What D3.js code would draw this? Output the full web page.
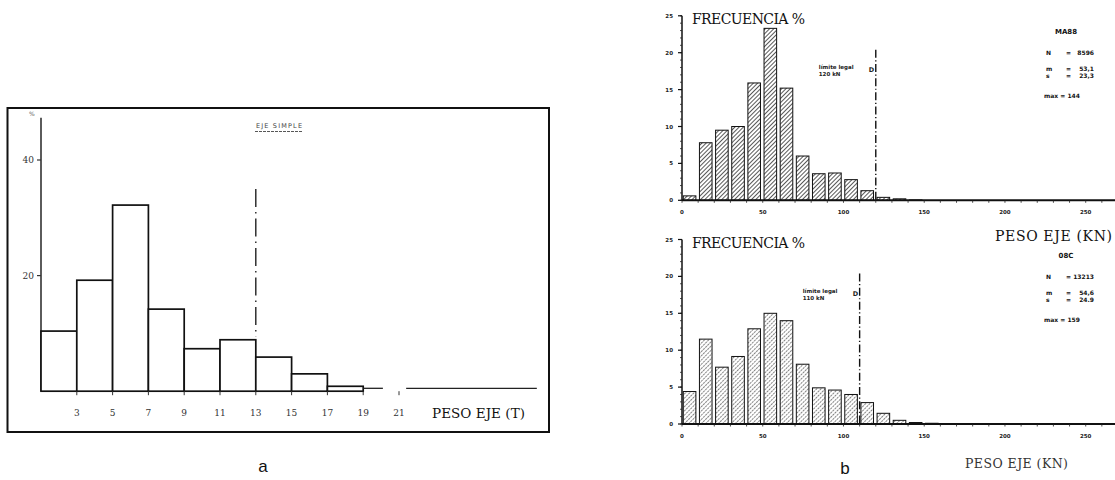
<!DOCTYPE html>
<html><head><meta charset="utf-8">
<script src="https://cdn.jsdelivr.net/npm/d3@7"></script>
<style>body{margin:0;background:#fff}svg{display:block}</style>
</head><body><svg id="c" width="1115" height="480"></svg>
<script>
// ---------- Panel a : EJE SIMPLE ----------
const aBinStarts = [1, 3, 5, 7, 9, 11, 13, 15, 17];
const aValues    = [10.4, 19.2, 32.2, 14.2, 7.35, 8.9, 5.9, 3.0, 0.85];
const aTail      = [[19, 20.1, 0.5], [21.4, 28.7, 0.5]];
const aXTicks    = [3, 5, 7, 9, 11, 13, 15, 17, 19, 21];
const aYTicks    = [20, 40];
const aLimit     = 13;
const aTitle     = "EJE SIMPLE";
const aXTitle    = "PESO EJE (T)";

// ---------- Panel b : two histograms ----------
const bBinStarts = [0, 10, 20, 30, 40, 50, 60, 70, 80, 90, 100, 110, 120, 130, 140, 150];
const maValues   = [0.6, 7.8, 9.5, 10.0, 15.9, 23.3, 15.2, 6.0, 3.6, 3.7, 2.8, 1.3, 0.4, 0.2, 0.05];
const ocValues   = [4.4, 11.5, 7.7, 9.15, 12.9, 15.0, 14.0, 8.1, 4.9, 4.6, 4.0, 2.9, 1.45, 0.5, 0.2, 0.1];
const bXTicks    = [0, 50, 100, 150, 200, 250];
const bYTicks    = [0, 5, 10, 15, 20, 25];
const maLimit    = 120, ocLimit = 110;
const maName = "MA88", ocName = "08C";
const maStats = [["N", "8596"], ["m", "53,1"], ["s", "23,3"]], maMax = "144";
const ocStats = [["N", "13213"], ["m", "54,6"], ["s", "24.9"]], ocMax = "159";

const svg = d3.select("#c");
const defs = svg.append("defs");
function hatch(id, color, dash, w) {
  const p = defs.append("pattern").attr("id", id).attr("patternUnits", "userSpaceOnUse")
    .attr("width", 3).attr("height", 3).attr("patternTransform", "rotate(45)");
  p.append("line").attr("x1", 0).attr("y1", 0).attr("x2", 0).attr("y2", 3)
    .attr("stroke", color).attr("stroke-width", w).attr("stroke-dasharray", dash);
}
hatch("hTop", "#111", null, 1.4);
hatch("hBot", "#333", "2,0.8", 1.2);

// ===== Panel a =====
const xA = d3.scaleLinear().domain([1, 29]).range([41, 542.2]);
const yA = d3.scaleLinear().domain([0, 40]).range([391.2, 160]);
const gA = svg.append("g");
gA.append("rect").attr("x", 7.5).attr("y", 108).attr("width", 541.5).attr("height", 324)
  .attr("fill", "none").attr("stroke", "#111").attr("stroke-width", 2);
gA.append("line").attr("x1", xA(1)).attr("x2", xA(1)).attr("y1", yA(0)).attr("y2", yA(47.3))
  .attr("stroke", "#333").attr("stroke-width", 1.6);
gA.selectAll(".aytk").data(aYTicks).join("line")
  .attr("x1", xA(1) - 4).attr("x2", xA(1)).attr("y1", d => yA(d)).attr("y2", d => yA(d))
  .attr("stroke", "#333").attr("stroke-width", 1.2);
gA.selectAll(".aytl").data(aYTicks).join("text")
  .attr("x", xA(1) - 7).attr("y", d => yA(d) + 3).attr("text-anchor", "end")
  .attr("font-family", "DejaVu Serif").attr("font-size", 9).attr("fill", "#333").text(d => d);
gA.append("text").attr("x", 29).attr("y", 116).attr("font-family", "DejaVu Sans")
  .attr("font-size", 6).attr("fill", "#666").text("%");
gA.append("line").attr("x1", xA(1)).attr("x2", xA(19)).attr("y1", yA(0)).attr("y2", yA(0))
  .attr("stroke", "#111").attr("stroke-width", 1.6);
gA.selectAll(".abar").data(aBinStarts).join("rect")
  .attr("x", d => xA(d)).attr("width", d => xA(d + 2) - xA(d))
  .attr("y", (d, i) => yA(aValues[i])).attr("height", (d, i) => yA(0) - yA(aValues[i]))
  .attr("fill", "#fff").attr("stroke", "#111").attr("stroke-width", 1.7);
gA.selectAll(".atail").data(aTail).join("line")
  .attr("x1", d => xA(d[0])).attr("x2", d => xA(d[1])).attr("y1", d => yA(d[2])).attr("y2", d => yA(d[2]))
  .attr("stroke", "#222").attr("stroke-width", 1.3);
gA.selectAll(".axtk").data(aXTicks).join("line")
  .attr("x1", d => xA(d)).attr("x2", d => xA(d)).attr("y1", yA(0)).attr("y2", yA(0) + 4)
  .attr("stroke", "#333").attr("stroke-width", 1);
gA.selectAll(".axtl").data(aXTicks).join("text")
  .attr("x", d => xA(d)).attr("y", 416).attr("text-anchor", "middle")
  .attr("font-family", "DejaVu Serif").attr("font-size", 9).attr("fill", "#333").text(d => d);
gA.append("text").attr("x", 432).attr("y", 417.5).attr("font-family", "DejaVu Serif")
  .attr("font-size", 13.5).attr("textLength", 93).attr("fill", "#111").text(aXTitle);
gA.append("line").attr("x1", xA(aLimit)).attr("x2", xA(aLimit)).attr("y1", yA(35)).attr("y2", yA(9.4))
  .attr("stroke", "#222").attr("stroke-width", 1.4).attr("stroke-dasharray", "18,5,1.5,5");
gA.append("text").attr("x", 256).attr("y", 128).attr("font-family", "DejaVu Sans")
  .attr("font-size", 6.5).attr("textLength", 46).attr("fill", "#444").text(aTitle);
gA.append("line").attr("x1", 255).attr("x2", 303).attr("y1", 131.5).attr("y2", 131.5)
  .attr("stroke", "#444").attr("stroke-width", 0.9).attr("stroke-dasharray", "3,1");
svg.append("text").attr("x", 263).attr("y", 472).attr("text-anchor", "middle")
  .attr("font-family", "Liberation Sans").attr("font-size", 17).attr("fill", "#111").text("a");

// ===== Panel b =====
const xB = d3.scaleLinear().domain([0, 270]).range([682, 1118]);
function panel(y0, values, pat, limit, name, stats, maxv) {
  const y = d3.scaleLinear().domain([0, 25]).range([y0, y0 - 184.5]);
  const g = svg.append("g");
  g.selectAll(".bar").data(values).join("rect")
    .attr("x", (d, i) => xB(bBinStarts[i] + 0.8)).attr("width", xB(7.8) - xB(0))
    .attr("y", d => y(d)).attr("height", d => y(0) - y(d))
    .attr("fill", `url(#${pat})`).attr("stroke", "#111").attr("stroke-width", 1);
  g.append("line").attr("x1", xB(0)).attr("x2", 1115).attr("y1", y(0)).attr("y2", y(0))
    .attr("stroke", "#111").attr("stroke-width", 2);
  g.append("line").attr("x1", xB(0)).attr("x2", xB(0)).attr("y1", y(0)).attr("y2", y(25))
    .attr("stroke", "#111").attr("stroke-width", 1.5);
  g.selectAll(".ymin").data(d3.range(0, 26)).join("line")
    .attr("x1", xB(0) - 2).attr("x2", xB(0)).attr("y1", d => y(d)).attr("y2", d => y(d))
    .attr("stroke", "#222").attr("stroke-width", 0.8);
  g.selectAll(".ymaj").data(bYTicks).join("line")
    .attr("x1", xB(0) - 4).attr("x2", xB(0)).attr("y1", d => y(d)).attr("y2", d => y(d))
    .attr("stroke", "#111").attr("stroke-width", 1.2);
  g.selectAll(".ylab").data(bYTicks).join("text")
    .attr("x", xB(0) - 9).attr("y", d => y(d) + 2).attr("text-anchor", "end")
    .attr("font-family", "DejaVu Sans").attr("font-weight", "bold").attr("font-size", 5.5)
    .attr("fill", "#222").text(d => d);
  g.selectAll(".xmin").data(d3.range(0, 270, 10)).join("line")
    .attr("x1", d => xB(d)).attr("x2", d => xB(d)).attr("y1", y(0)).attr("y2", y(0) + 2.5)
    .attr("stroke", "#222").attr("stroke-width", 0.8);
  g.selectAll(".xlab").data(bXTicks).join("text")
    .attr("x", d => xB(d)).attr("y", y(0) + 14).attr("text-anchor", "middle")
    .attr("font-family", "DejaVu Sans").attr("font-weight", "bold").attr("font-size", 5.5)
    .attr("fill", "#222").text(d => d);
  g.append("text").attr("x", 692).attr("y", y(25) + 8.5).attr("font-family", "DejaVu Serif")
    .attr("font-size", 14).attr("textLength", 113).attr("fill", "#111").text("FRECUENCIA %");
  g.append("line").attr("x1", xB(limit)).attr("x2", xB(limit)).attr("y1", y(20.4)).attr("y2", y(0))
    .attr("stroke", "#111").attr("stroke-width", 1.4).attr("stroke-dasharray", "8,2.5,1.2,2.5");
  const tx = xB(limit) - 57;
  g.append("text").attr("x", tx).attr("y", y(0) - 131).attr("font-family", "DejaVu Sans")
    .attr("font-weight", "bold").attr("font-size", 5.5).attr("fill", "#222").text("límite legal");
  g.append("text").attr("x", tx).attr("y", y(0) - 124).attr("font-family", "DejaVu Sans")
    .attr("font-weight", "bold").attr("font-size", 5.5).attr("fill", "#222").text(limit + " kN");
  g.append("text").attr("x", xB(limit) - 7).attr("y", y(0) - 128).attr("font-family", "DejaVu Sans")
    .attr("font-weight", "bold").attr("font-size", 6.5).attr("fill", "#222").text("D");
  g.append("text").attr("x", 1066).attr("y", y(0) - 166).attr("text-anchor", "middle")
    .attr("font-family", "DejaVu Sans").attr("font-weight", "bold").attr("font-size", 7)
    .attr("fill", "#111").text(name);
  const rows = [-145, -129, -122.5];
  stats.forEach((s, i) => {
    g.append("text").attr("x", 1046).attr("y", y(0) + rows[i]).attr("font-family", "DejaVu Sans")
      .attr("font-weight", "bold").attr("font-size", 6).attr("fill", "#111").text(s[0]);
    g.append("text").attr("x", 1066).attr("y", y(0) + rows[i]).attr("font-family", "DejaVu Sans")
      .attr("font-weight", "bold").attr("font-size", 6).attr("fill", "#111").text("=");
    g.append("text").attr("x", 1094).attr("y", y(0) + rows[i]).attr("text-anchor", "end")
      .attr("font-family", "DejaVu Sans").attr("font-weight", "bold").attr("font-size", 6)
      .attr("fill", "#111").text(s[1]);
  });
  g.append("text").attr("x", 1044).attr("y", y(0) - 102).attr("font-family", "DejaVu Sans")
    .attr("font-weight", "bold").attr("font-size", 6).attr("fill", "#111").text("max  =  " + maxv);
  return y;
}
panel(200.3, maValues, "hTop", maLimit, maName, maStats, maMax);
panel(424, ocValues, "hBot", ocLimit, ocName, ocStats, ocMax);

svg.append("text").attr("x", 995).attr("y", 241).attr("font-family", "DejaVu Serif")
  .attr("font-size", 14).attr("textLength", 117).attr("fill", "#111").text("PESO EJE (KN)");
svg.append("text").attr("x", 965).attr("y", 468).attr("font-family", "DejaVu Serif")
  .attr("font-size", 12.5).attr("textLength", 103).attr("fill", "#333").text("PESO EJE (KN)");
svg.append("text").attr("x", 845).attr("y", 474).attr("text-anchor", "middle")
  .attr("font-family", "Liberation Sans").attr("font-size", 17).attr("fill", "#111").text("b");
</script></body></html>
